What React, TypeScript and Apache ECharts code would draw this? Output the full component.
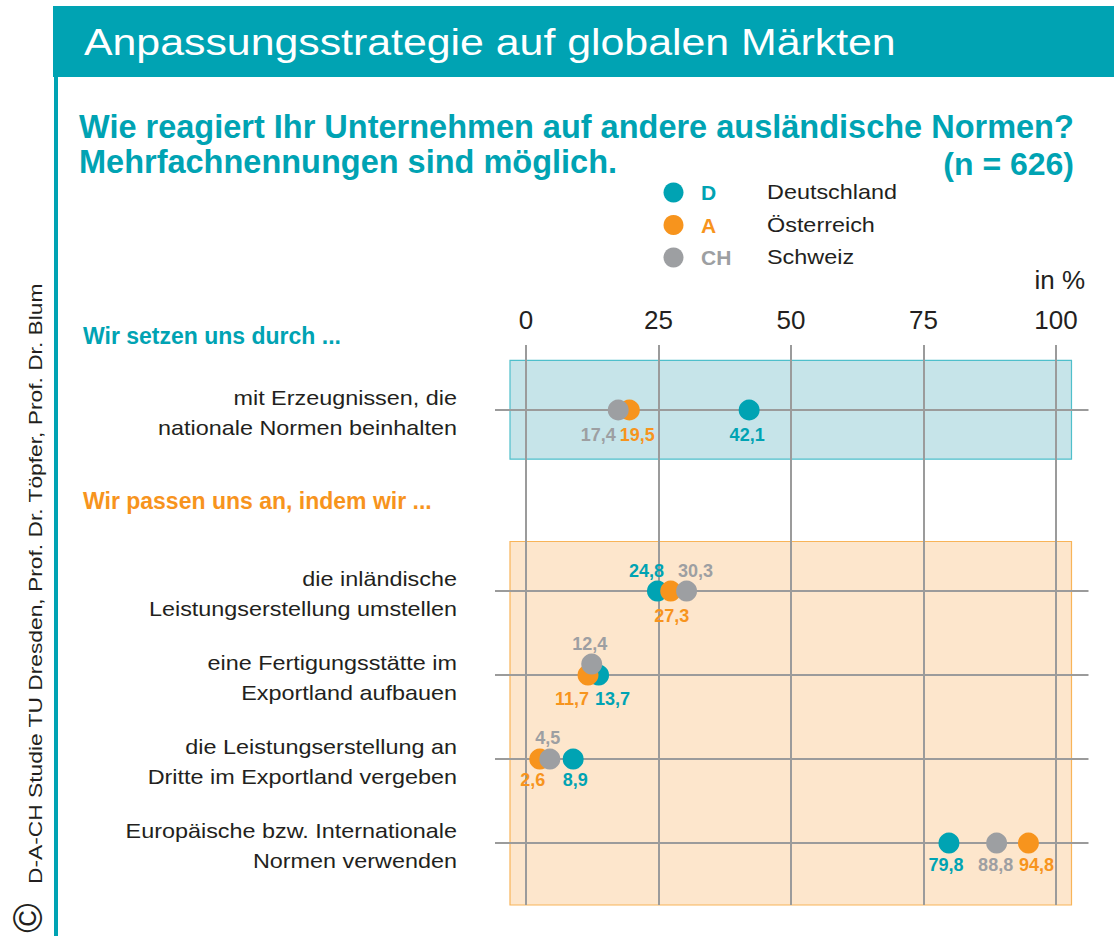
import React, { useEffect, useRef } from 'react';
import * as echarts from 'echarts';

// ---------- data ----------
const CATEGORIES = [
  'mit Erzeugnissen, die\nnationale Normen beinhalten',
  'die inländische\nLeistungserstellung umstellen',
  'eine Fertigungsstätte im\nExportland aufbauen',
  'die Leistungserstellung an\nDritte im Exportland vergeben',
  'Europäische bzw. Internationale\nNormen verwenden',
];
const SECTION_OF_ROW = [0, 1, 1, 1, 1];
const SECTION_TITLES = ['Wir setzen uns durch ...', 'Wir passen uns an, indem wir ...'];
const D_VALUES = [42.1, 24.8, 13.7, 8.9, 79.8];
const A_VALUES = [19.5, 27.3, 11.7, 2.6, 94.8];
const CH_VALUES = [17.4, 30.3, 12.4, 4.5, 88.8];
const X_TICKS = [0, 25, 50, 75, 100];
const SERIES_CODES = ['D', 'A', 'CH'];
const SERIES_NAMES = ['Deutschland', 'Österreich', 'Schweiz'];
const TITLE = 'Anpassungsstrategie auf globalen Märkten';
const QUESTION_1 = 'Wie reagiert Ihr Unternehmen auf andere ausländische Normen?';
const QUESTION_2 = 'Mehrfachnennungen sind möglich.';
const SAMPLE = '(n = 626)';
const UNIT = 'in %';
const COPYRIGHT = 'D-A-CH Studie TU Dresden, Prof. Dr. Töpfer, Prof. Dr. Blum';

// ---------- style / layout ----------
const FONT = '"Liberation Sans", Arial, Helvetica, sans-serif';
const TEAL = '#00A3B3';
const ORANGE = '#F7941D';
const GRAY = '#9D9FA2';
const TEXT = '#231F20';
const GRID_COLOR = '#9B9B9B';
const SECTION_FILL = ['#C6E4E9', '#FDE6CC'];
const SECTION_STROKE = ['#4FBFCB', '#F8B458'];
const SECTION_COLOR = [TEAL, ORANGE];
const SERIES_COLORS = [TEAL, ORANGE, GRAY];

const Y_MAX = 20 / 3; // row step units over the plot height
const SECTION_START = [0.774, 2.929];
const RECT_PAD_TOP = 0.59;
const RECT_PAD_BOTTOM = [0.585, 0.74];

// row y positions computed from section layout
const ROW_Y: number[] = (() => {
  const counters = [0, 0];
  return SECTION_OF_ROW.map((s) => SECTION_START[s] + counters[s]++);
})();
const SECTION_RECTS = SECTION_TITLES.map((_, s) => {
  const ys = ROW_Y.filter((_, i) => SECTION_OF_ROW[i] === s);
  return [s, ys[0] - RECT_PAD_TOP, Math.min(Y_MAX, ys[ys.length - 1] + RECT_PAD_BOTTOM[s])];
});

// label placement (pixel offsets from the dot), per series per row
const LABEL_OFFSETS = [
  [[-2, 25], [-11, -20], [14, 24], [2, 21], [-3, 22]],
  [[8, 25], [1, 25], [-16, 24], [-7, 21], [8, 22]],
  [[-20, 25], [9, -20], [-2, -20], [-2, -21], [-1, 22]],
];
const SYMBOL_OFFSETS = [
  [[0, 0], [0, 0], [0, 0], [0, 0], [0, 0]],
  [[0, 0], [0, 0], [0, 0], [0, 0], [0, 0]],
  [[0, 0], [0, 0], [0, -11], [0, 0], [0, 0]],
];

const fmt = (v: number) => v.toFixed(1).replace('.', ',');

function buildOption() {
  const values = [D_VALUES, A_VALUES, CH_VALUES];
  const scatter = values.map((vals, si) => ({
    type: 'scatter',
    name: SERIES_CODES[si],
    z: 3 + si,
    symbol: 'circle',
    symbolSize: 21,
    itemStyle: { color: SERIES_COLORS[si], opacity: 1 },
    emphasis: { disabled: true },
    label: {
      show: true,
      position: 'inside',
      color: SERIES_COLORS[si],
      fontSize: 18,
      fontWeight: 'bold',
      fontFamily: FONT,
      formatter: (p: any) => fmt(p.value[0]),
    },
    data: vals.map((v, i) => ({
      value: [v, ROW_Y[i]],
      symbolOffset: SYMBOL_OFFSETS[si][i],
      label: { offset: LABEL_OFFSETS[si][i] },
    })),
  }));

  const rectSeries = {
    type: 'custom',
    z: -1,
    silent: true,
    data: SECTION_RECTS,
    renderItem: (params: any, api: any) => {
      const s = params.dataIndex;
      const p0 = api.coord([0, api.value(1)]);
      const p1 = api.coord([100, api.value(2)]);
      const x0 = p0[0] - 16;
      const x1 = p1[0] + 15.5;
      return {
        type: 'rect',
        shape: { x: x0, y: p0[1], width: x1 - x0, height: p1[1] - p0[1] },
        style: { fill: SECTION_FILL[s], stroke: SECTION_STROKE[s], lineWidth: 1.2 },
      };
    },
  };

  const rowSeries = {
    type: 'custom',
    z: 1,
    silent: true,
    data: ROW_Y.map((y, i) => [0, y, i]),
    renderItem: (params: any, api: any) => {
      const i = params.dataIndex;
      const y = api.value(1);
      const p0 = api.coord([0, y]);
      const p1 = api.coord([100, y]);
      return {
        type: 'group',
        children: [
          {
            type: 'line',
            shape: { x1: p0[0] - 31, y1: p0[1], x2: p1[0] + 32.5, y2: p0[1] },
            style: { stroke: GRID_COLOR, lineWidth: 2 },
          },
          {
            type: 'text',
            x: p0[0] - 69,
            y: p0[1] + 3,
            scaleX: 1.17,
            style: {
              text: CATEGORIES[i],
              align: 'right',
              verticalAlign: 'middle',
              fontSize: 20,
              fontFamily: FONT,
              lineHeight: 30,
              fill: TEXT,
            },
          },
        ],
      };
    },
  };

  const legendY = [192.5, 225, 257.5];
  const legendGraphics: any[] = [];
  SERIES_CODES.forEach((code, i) => {
    legendGraphics.push({
      type: 'circle',
      shape: { cx: 673.5, cy: legendY[i], r: 10 },
      style: { fill: SERIES_COLORS[i] },
    });
    legendGraphics.push({
      type: 'text',
      x: 701,
      y: legendY[i],
      style: {
        text: code,
        fill: SERIES_COLORS[i],
        fontSize: 21,
        fontWeight: 'bold',
        fontFamily: FONT,
        verticalAlign: 'middle',
      },
    });
    legendGraphics.push({
      type: 'text',
      x: 767,
      y: legendY[i],
      scaleX: 1.17,
      style: {
        text: SERIES_NAMES[i],
        fill: TEXT,
        fontSize: 20,
        fontFamily: FONT,
        verticalAlign: 'middle',
      },
    });
  });

  const graphics: any[] = [
    { type: 'rect', shape: { x: 53, y: 6, width: 1061, height: 71 }, style: { fill: TEAL } },
    { type: 'rect', shape: { x: 54, y: 77, width: 4, height: 859 }, style: { fill: TEAL } },
    {
      type: 'text', x: 84, y: 42, scaleX: 1.19,
      style: { text: TITLE, fill: '#fff', fontSize: 36, fontFamily: FONT, verticalAlign: 'middle' },
    },
    {
      type: 'text', x: 79, y: 127,
      style: { text: QUESTION_1, fill: TEAL, fontSize: 32.5, fontWeight: 'bold', fontFamily: FONT, verticalAlign: 'middle' },
    },
    {
      type: 'text', x: 79, y: 162,
      style: { text: QUESTION_2, fill: TEAL, fontSize: 32.5, fontWeight: 'bold', fontFamily: FONT, verticalAlign: 'middle' },
    },
    {
      type: 'text', x: 1074, y: 164,
      style: { text: SAMPLE, fill: TEAL, fontSize: 32, fontWeight: 'bold', fontFamily: FONT, verticalAlign: 'middle', align: 'right' },
    },
    {
      type: 'text', x: 1085, y: 280,
      style: { text: UNIT, fill: TEXT, fontSize: 26, fontFamily: FONT, verticalAlign: 'middle', align: 'right' },
    },
    {
      type: 'text', x: 83, y: 336,
      style: { text: SECTION_TITLES[0], fill: SECTION_COLOR[0], fontSize: 23, fontWeight: 'bold', fontFamily: FONT, verticalAlign: 'middle' },
    },
    {
      type: 'text', x: 83, y: 501,
      style: { text: SECTION_TITLES[1], fill: SECTION_COLOR[1], fontSize: 23, fontWeight: 'bold', fontFamily: FONT, verticalAlign: 'middle' },
    },
    {
      type: 'text', x: 28, y: 918, rotation: Math.PI / 2,
      style: { text: '©', fill: TEXT, fontSize: 40, fontFamily: FONT, verticalAlign: 'middle', align: 'center' },
    },
    {
      type: 'text', x: 35.5, y: 884, rotation: Math.PI / 2, scaleX: 1.2,
      style: { text: COPYRIGHT, fill: TEXT, fontSize: 19, fontFamily: FONT, verticalAlign: 'middle', align: 'left' },
    },
    ...legendGraphics,
  ];

  return {
    animation: false,
    backgroundColor: '#ffffff',
    grid: { left: 526, right: 58, top: 345, bottom: 31, containLabel: false },
    xAxis: {
      type: 'value',
      position: 'top',
      min: X_TICKS[0],
      max: X_TICKS[X_TICKS.length - 1],
      interval: X_TICKS[1] - X_TICKS[0],
      axisLine: { show: false },
      axisTick: { show: false },
      axisLabel: { fontSize: 26, color: TEXT, fontFamily: FONT, margin: 12 },
      splitLine: { show: true, lineStyle: { color: GRID_COLOR, width: 2 } },
    },
    yAxis: { type: 'value', inverse: true, min: 0, max: Y_MAX, show: false },
    series: [rectSeries, rowSeries, ...scatter],
    graphic: graphics,
  };
}

export default function App() {
  const ref = useRef<HTMLDivElement>(null);
  useEffect(() => {
    if (!ref.current) return;
    const chart = echarts.init(ref.current, null, { renderer: 'svg' });
    chart.setOption(buildOption() as any);
    return () => chart.dispose();
  }, []);
  return (
    <div
      ref={ref}
      style={{ position: 'fixed', left: 0, top: 0, width: 1114, height: 936, background: '#fff' }}
    />
  );
}
